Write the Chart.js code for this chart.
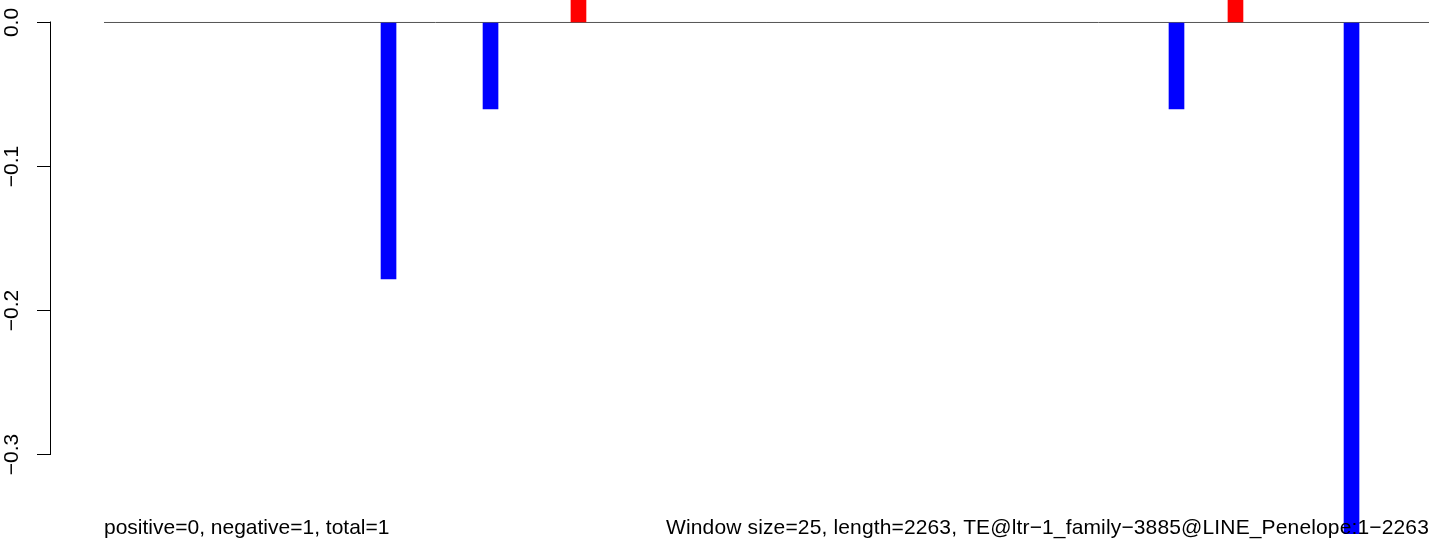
<!DOCTYPE html>
<html><head><meta charset="utf-8">
<script src="https://cdn.jsdelivr.net/npm/chart.js@4"></script>
<style>html,body{margin:0;padding:0;background:#fff;overflow:hidden}#wrap{width:1429px;height:541px;position:relative}</style>
</head><body><div id="wrap"><canvas id="c" width="1429" height="541"></canvas></div>
<script>
// ---- data ----
const barPositions = [474.2, 644.2, 790.8, 1787.5, 1885.8, 2079.2];   // window centre (bp)
const barValues    = [-0.178, -0.06, 0.06, -0.06, 0.06, -0.40];
const yTickValues  = [0, -0.1, -0.2, -0.3];
const sequenceLength = 2263;
const footerLeft  = 'positive=0, negative=1, total=1';
const footerRight = 'Window size=25, length=2263, TE@ltr\u22121_family\u22123885@LINE_Penelope:1\u22122263';

const FONT = '"Liberation Sans", Arial, Helvetica, sans-serif';
const fmt = v => Math.abs(v) < 1e-9 ? '0.0' : (v < 0 ? '\u2212' : '') + Math.abs(v).toFixed(1);

const extras = {
  id: 'extras',
  afterDraw(chart) {
    const ctx = chart.ctx, y = chart.scales.y;
    ctx.save();
    ctx.strokeStyle = '#000'; ctx.lineWidth = 1;
    const x = Math.round(y.right) - 0.5;
    ctx.beginPath();
    ctx.moveTo(x, Math.round(y.getPixelForValue(yTickValues[0])) - 0.5);
    ctx.lineTo(x, Math.round(y.getPixelForValue(yTickValues[yTickValues.length - 1])) + 0.5);
    ctx.stroke();
    ctx.fillStyle = '#000';
    ctx.font = '21px ' + FONT;
    ctx.textBaseline = 'alphabetic';
    ctx.textAlign = 'left';
    ctx.fillText(footerLeft, 104, 534);
    const w = ctx.measureText(footerRight).width;
    const target = 763;
    if ('letterSpacing' in ctx) ctx.letterSpacing = ((target - w) / footerRight.length).toFixed(3) + 'px';
    ctx.fillText(footerRight, 666, 534);
    ctx.restore();
  }
};

new Chart(document.getElementById('c'), {
  type: 'bar',
  data: {
    datasets: [
      {
        type: 'bar',
        data: barPositions.map((x, i) => ({ x: x, y: barValues[i] })),
        backgroundColor: barValues.map(v => v > 0 ? '#ff0000' : '#0000ff'),
        borderWidth: 0,
        barThickness: 15,
        order: 1
      },
      {
        type: 'line',
        data: [{ x: 0, y: 0 }, { x: sequenceLength, y: 0 }],
        borderColor: '#555555',
        borderWidth: 1,
        pointRadius: 0,
        order: 2
      }
    ]
  },
  options: {
    responsive: false,
    animation: false,
    devicePixelRatio: 1,
    layout: { padding: { left: 0, right: 0, top: 0, bottom: 7 } },
    plugins: { legend: { display: false }, tooltip: { enabled: false } },
    scales: {
      x: { type: 'linear', display: false, offset: false, min: -88.333, max: 2208.333 },
      y: {
        type: 'linear', position: 'left',
        min: -0.35521, max: 0.015625,
        afterBuildTicks: s => { s.ticks = yTickValues.map(v => ({ value: v })); },
        afterFit: s => { s.width = 51; s.paddingTop = 0; s.paddingBottom = 0; },
        border: { display: false },
        grid: { drawOnChartArea: false, drawTicks: true, tickLength: 14, color: '#000', lineWidth: 1 },
        ticks: {
          minRotation: 90, maxRotation: 90, crossAlign: 'center', padding: 4,
          autoSkip: false, color: '#000', font: { family: FONT, size: 21 },
          callback: v => fmt(v)
        }
      }
    }
  },
  plugins: [extras]
});
</script></body></html>
